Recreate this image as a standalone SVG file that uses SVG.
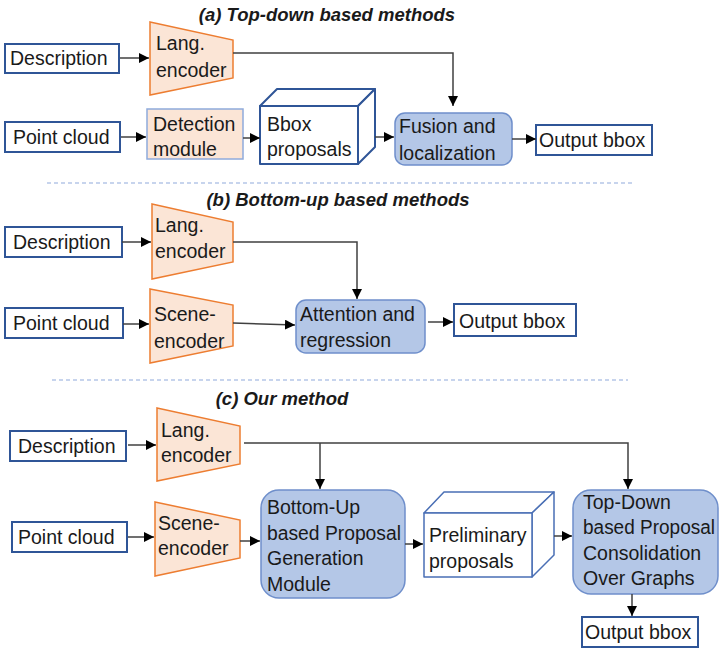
<svg xmlns="http://www.w3.org/2000/svg" width="719" height="649" viewBox="0 0 719 649">
  <defs>
    <marker id="arr" viewBox="0 0 10 10" refX="10" refY="5" markerWidth="10" markerHeight="10" markerUnits="userSpaceOnUse" orient="auto">
      <path d="M0,0 L10,5 L0,10 z" fill="#000"/>
    </marker>
    <style>
      text { font-family: "Liberation Sans", Arial, sans-serif; font-size: 19.5px; fill: #1a1a1a; }
      .title { font-weight: bold; font-style: italic; font-size: 18.5px; text-anchor: middle; }
      .io { fill: #fff; stroke: #2f5597; stroke-width: 2; }
      .enc { fill: #fbe5d6; stroke: #ed7d31; stroke-width: 1.5; }
      .det { fill: #fbe5d6; stroke: #8faadc; stroke-width: 1.5; }
      .proc { fill: #b4c7e7; stroke: #6f8fcb; stroke-width: 1.5; }
      .cube { fill: #fff; stroke: #2f5597; stroke-width: 2; stroke-linejoin: round; }
      .cube2 { fill: #fff; stroke: #4a6fb5; stroke-width: 1.5; stroke-linejoin: round; }
      .sep { stroke: #8faadc; stroke-width: 1.2; stroke-dasharray: 4 3; fill: none; }
      #connectors path { fill: none; stroke: #404040; stroke-width: 1.5; marker-end: url(#arr); }
    </style>
  </defs>

  <rect width="719" height="649" fill="#fff"/>

  <!-- (a) top-down -->
  <text class="title" x="327" y="21">(a) Top-down based methods</text>

  <g id="a-description">
    <rect class="io" x="5" y="44" width="114" height="29"/>
    <text x="10" y="65">Description</text>
  </g>
  <g id="a-lang-encoder">
    <polygon class="enc" points="150,22 233,40 233,78 150,95"/>
    <text x="156" y="50">Lang.</text>
    <text x="156" y="77">encoder</text>
  </g>
  <g id="a-point-cloud">
    <rect class="io" x="5" y="122" width="115" height="30"/>
    <text x="13" y="144">Point cloud</text>
  </g>
  <g id="a-detection">
    <rect class="det" x="147" y="109" width="96" height="50"/>
    <text x="153" y="131">Detection</text>
    <text x="153" y="156">module</text>
  </g>
  <g id="a-bbox-proposals">
    <polygon class="cube" points="260,106 277,89 375,89 358,106"/>
    <polygon class="cube" points="358,106 375,89 375,147 358,164"/>
    <rect class="cube" x="260" y="106" width="98" height="58"/>
    <text x="267" y="131">Bbox</text>
    <text x="267" y="156">proposals</text>
  </g>
  <g id="a-fusion">
    <rect class="proc" x="395" y="113" width="117" height="52" rx="10"/>
    <text x="399" y="133">Fusion and</text>
    <text x="399" y="160">localization</text>
  </g>
  <g id="a-output">
    <rect class="io" x="536" y="125" width="116" height="30"/>
    <text x="539" y="147">Output bbox</text>
  </g>

  <line class="sep" x1="47" y1="183" x2="632" y2="183"/>

  <!-- (b) bottom-up -->
  <text class="title" x="338" y="206">(b) Bottom-up based methods</text>

  <g id="b-description">
    <rect class="io" x="5" y="227" width="117" height="30"/>
    <text x="13" y="249">Description</text>
  </g>
  <g id="b-lang-encoder">
    <polygon class="enc" points="152,204 233,222 233,262 152,279"/>
    <text x="155" y="232">Lang.</text>
    <text x="155" y="258">encoder</text>
  </g>
  <g id="b-point-cloud">
    <rect class="io" x="5" y="308" width="118" height="30"/>
    <text x="13" y="330">Point cloud</text>
  </g>
  <g id="b-scene-encoder">
    <polygon class="enc" points="150,289 233,305 233,346 150,363"/>
    <text x="154" y="321">Scene-</text>
    <text x="154" y="348">encoder</text>
  </g>
  <g id="b-attention">
    <rect class="proc" x="296" y="300" width="129" height="53" rx="10"/>
    <text x="300" y="321">Attention and</text>
    <text x="300" y="347">regression</text>
  </g>
  <g id="b-output">
    <rect class="io" x="454" y="304" width="122" height="32"/>
    <text x="459" y="328">Output bbox</text>
  </g>

  <line class="sep" x1="52" y1="380" x2="628" y2="380"/>

  <!-- (c) our method -->
  <text class="title" x="282" y="405">(c) Our method</text>

  <g id="c-description">
    <rect class="io" x="10" y="431" width="116" height="30"/>
    <text x="18" y="453">Description</text>
  </g>
  <g id="c-lang-encoder">
    <polygon class="enc" points="157,408 240,426 240,464 157,481"/>
    <text x="161" y="437">Lang.</text>
    <text x="161" y="462">encoder</text>
  </g>
  <g id="c-point-cloud">
    <rect class="io" x="12" y="522" width="115" height="30"/>
    <text x="18" y="544">Point cloud</text>
  </g>
  <g id="c-scene-encoder">
    <polygon class="enc" points="155,502 240,520 240,558 155,576"/>
    <text x="158" y="530">Scene-</text>
    <text x="158" y="555">encoder</text>
  </g>
  <g id="c-bottom-up">
    <rect class="proc" x="261" y="490" width="144" height="108" rx="18"/>
    <text x="267" y="514">Bottom-Up</text>
    <text x="267" y="540" textLength="134" lengthAdjust="spacingAndGlyphs">based Proposal</text>
    <text x="267" y="565">Generation</text>
    <text x="267" y="591">Module</text>
  </g>
  <g id="c-preliminary">
    <polygon class="cube2" points="424,513 444,492 554,492 532,513"/>
    <polygon class="cube2" points="532,513 554,492 554,555 532,577"/>
    <rect class="cube2" x="424" y="513" width="108" height="64"/>
    <text x="429" y="542">Preliminary</text>
    <text x="429" y="568">proposals</text>
  </g>
  <g id="c-top-down">
    <rect class="proc" x="573" y="490" width="145" height="104" rx="18"/>
    <text x="583" y="509">Top-Down</text>
    <text x="583" y="534" textLength="132" lengthAdjust="spacingAndGlyphs">based Proposal</text>
    <text x="583" y="560">Consolidation</text>
    <text x="583" y="585">Over Graphs</text>
  </g>
  <g id="c-output">
    <rect class="io" x="582" y="617" width="116" height="30"/>
    <text x="585" y="639">Output bbox</text>
  </g>

  <g id="connectors">
    <!-- (a) -->
    <path d="M120,58 H149"/>
    <path d="M233,53 H453 V106"/>
    <path d="M121,137 H146"/>
    <path d="M243,138 H260"/>
    <path d="M375,137 H394"/>
    <path d="M512,139 H536"/>
    <!-- (b) -->
    <path d="M122,242 H151"/>
    <path d="M233,242 H357 V299"/>
    <path d="M123,324 H149"/>
    <path d="M233,323 L295,325"/>
    <path d="M428,322 H453"/>
    <!-- (c) -->
    <path d="M128,445 H156"/>
    <path d="M244,443 H628 V489"/>
    <path d="M320,443 V489"/>
    <path d="M128,537 H154"/>
    <path d="M240,541 H260"/>
    <path d="M405,544 H423"/>
    <path d="M554,536 H572"/>
    <path d="M632,594 V616"/>
  </g>
</svg>
